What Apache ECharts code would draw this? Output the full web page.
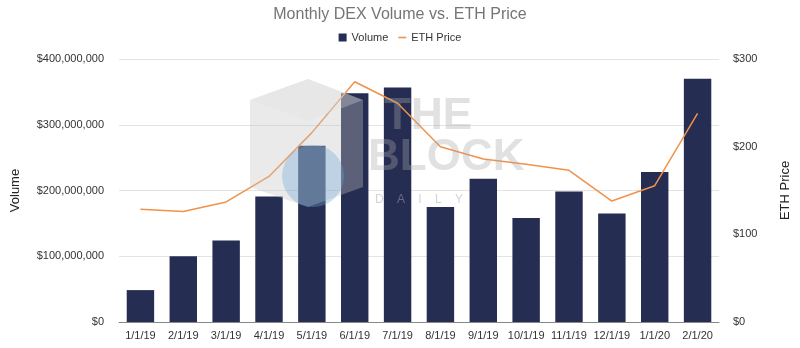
<!DOCTYPE html>
<html><head><meta charset="utf-8">
<script src="https://cdn.jsdelivr.net/npm/echarts@6/dist/echarts.min.js"></script>
<style>html,body{margin:0;padding:0;background:#fff}#c{width:800px;height:348px}</style>
</head><body><div id="c"></div>
<script>
const categories = ['1/1/19','2/1/19','3/1/19','4/1/19','5/1/19','6/1/19','7/1/19','8/1/19','9/1/19','10/1/19','11/1/19','12/1/19','1/1/20','2/1/20'];
const volume = [48500000,100000000,124000000,191000000,268000000,348000000,356500000,175000000,218000000,158000000,198500000,165000000,228000000,370000000];
const ethPrice = [128.5,126,137,166,216,274,249.5,200,186,180,173,138,155.5,238];
const volumeTicks = [0,100000000,200000000,300000000,400000000];
const priceTicks = [0,100,200,300];

const chart = echarts.init(document.getElementById('c'));
const fmt = v => '$' + v.toLocaleString('en-US');
const FONT = 'Liberation Sans';
chart.setOption({
  animation:false,
  title:{text:'Monthly DEX Volume vs. ETH Price',left:'center',top:2,textStyle:{fontFamily:FONT,fontSize:16,fontWeight:'normal',color:'#757575'}},
  legend:{top:27,left:'center',itemWidth:8,itemHeight:8,itemGap:10,textStyle:{fontFamily:FONT,fontSize:11,color:'#333'},
    data:[{name:'Volume',icon:'rect'},{name:'ETH Price',icon:'path://M0,4 L10,4 L10,6 L0,6 Z'}]},
  grid:{left:119,right:72,top:59,bottom:26},
  xAxis:{type:'category',data:categories,axisTick:{show:false},axisLine:{lineStyle:{color:'#888'}},
    axisLabel:{fontFamily:FONT,fontSize:11,color:'#333',margin:8,interval:0}},
  yAxis:[
    {type:'value',min:volumeTicks[0],max:volumeTicks[volumeTicks.length-1],interval:100000000,name:'Volume',nameLocation:'middle',nameGap:97,
      nameTextStyle:{fontFamily:FONT,fontSize:13,color:'#222'},
      axisLabel:{formatter:fmt,fontFamily:FONT,fontSize:11,color:'#333',margin:15},
      splitLine:{lineStyle:{color:'#e3e3e3'}},axisLine:{show:false},axisTick:{show:false}},
    {type:'value',min:priceTicks[0],max:priceTicks[priceTicks.length-1],interval:100,name:'ETH Price',nameLocation:'middle',nameGap:60,nameRotate:90,
      nameTextStyle:{fontFamily:FONT,fontSize:13,color:'#222'},
      axisLabel:{formatter:fmt,fontFamily:FONT,fontSize:11,color:'#333',margin:14},
      splitLine:{show:false},axisLine:{show:false},axisTick:{show:false}}
  ],
  graphic:[
    {type:'polygon',z:100,silent:true,shape:{points:[[308,79],[363,100],[363,187],[308,207],[250,187],[250,100]]},style:{fill:'rgba(195,195,195,0.35)'}},
    {type:'polygon',z:101,silent:true,shape:{points:[[308,79],[363,100],[308,121],[250,100]]},style:{fill:'rgba(225,225,225,0.3)'}},
    {type:'text',z:101,silent:true,left:384,top:95,style:{text:'THE',font:'bold 44px "Liberation Sans"',fill:'rgba(170,170,170,0.35)'}},
    {type:'text',z:101,silent:true,left:368,top:136,style:{text:'BLOCK',font:'bold 44px "Liberation Sans"',fill:'rgba(170,170,170,0.35)'}},
    {type:'text',z:101,silent:true,left:375,top:194,style:{text:'D    A    I    L    Y',font:'12px "Liberation Sans"',fill:'rgba(170,170,170,0.5)'}},
    {type:'circle',z:102,silent:true,shape:{cx:313,cy:176,r:31},style:{fill:'rgba(110,165,215,0.35)'}}
  ],
  series:[
    {name:'Volume',type:'bar',data:volume,barCategoryGap:'36%',itemStyle:{color:'#252d52'}},
    {name:'ETH Price',type:'line',yAxisIndex:1,data:ethPrice,symbol:'none',z:5,lineStyle:{color:'#f0924a',width:1.5},itemStyle:{color:'#f0924a'}}
  ]
});
</script></body></html>
